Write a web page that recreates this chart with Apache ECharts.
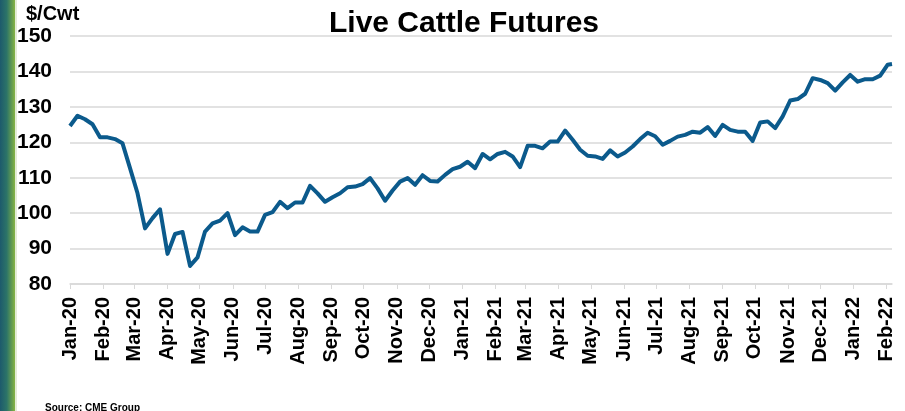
<!DOCTYPE html>
<html>
<head>
<meta charset="utf-8">
<title>Live Cattle Futures</title>
<script src="https://cdn.jsdelivr.net/npm/echarts@6/dist/echarts.min.js"></script>
<style>
    html, body { margin: 0; padding: 0; background: #fff; }
    #chart { width: 905px; height: 411px; }
</style>
</head>
<body>
<div id="chart"></div>
<script>
// weekly settle prices, $/Cwt
var firstWeek = '2020-01-01';
var lastQuote = '2022-02-06';
var prices = [
    124.6, 127.5, 126.5, 125.1, 121.4, 121.4, 120.9, 119.7, 112.7, 105.6,
    95.7, 98.6, 101.1, 88.5, 94.1, 94.7, 85.1, 87.5, 94.8, 97.1,
    97.9, 100.0, 93.8, 96.0, 94.8, 94.8, 99.5, 100.3, 103.2, 101.4,
    103.0, 103.0, 107.7, 105.6, 103.2, 104.5, 105.6, 107.3, 107.5, 108.2,
    109.9, 107.0, 103.5, 106.4, 108.9, 109.9, 108.0, 110.7, 109.1, 108.9,
    110.8, 112.4, 113.1, 114.5, 112.7, 116.7, 115.2, 116.7, 117.3, 116.0,
    113.0, 119.0, 119.0, 118.3, 120.2, 120.2, 123.3, 120.7, 117.9, 116.2,
    116.0, 115.3, 117.7, 116.0, 117.1, 118.8, 120.9, 122.7, 121.7, 119.3,
    120.4, 121.6, 122.1, 123.0, 122.7, 124.3, 121.8, 124.9, 123.5, 123.0,
    123.0, 120.4, 125.6, 125.9, 124.0, 127.3, 131.8, 132.2, 133.7, 138.1,
    137.6, 136.7, 134.6, 136.9, 139.0, 137.1, 137.8, 137.8, 138.8, 141.9,
    142.1
];
var monthNames = ['Jan','Feb','Mar','Apr','May','Jun','Jul','Aug','Sep','Oct','Nov','Dec'];
var yTicks = [80, 90, 100, 110, 120, 130, 140, 150];

function parseDay(s) {
    var p = s.split('-');
    return new Date(+p[0], +p[1] - 1, +p[2]);
}

// one point per week, the last one is the latest quote
var seriesData = [];
var d0 = parseDay(firstWeek);
for (var i = 0; i < prices.length; i++) {
    var d = (i == prices.length - 1) ? parseDay(lastQuote)
        : new Date(d0.getFullYear(), d0.getMonth(), d0.getDate() + 7 * i);
    seriesData.push([d.getTime(), prices[i]]);
}

// month starts Jan-20 .. Feb-22
var monthTicks = [];
for (var m = 0; m <= 25; m++) {
    monthTicks.push(new Date(2020, m, 1).getTime());
}

var chart = echarts.init(document.getElementById('chart'));
var option = {
    animation: false,
    backgroundColor: '#fff',
    textStyle: { fontFamily: 'Liberation Sans, Arial, sans-serif' },
    title: {
        text: 'Live Cattle Futures',
        left: 459,
        textAlign: 'center',
        top: 4,
        textStyle: { fontSize: 30, fontWeight: 'bold', color: '#000', fontFamily: 'Liberation Sans' }
    },
    graphic: [
        {
            type: 'rect', left: 0, top: 0, silent: true,
            shape: { width: 15, height: 411 },
            style: {
                fill: new echarts.graphic.LinearGradient(0, 0, 1, 0, [
                    { offset: 0, color: '#1d5a6c' },
                    { offset: 0.45, color: '#2c7468' },
                    { offset: 1, color: '#86b443' }
                ])
            }
        },
        {
            type: 'rect', left: 15, top: 0, silent: true,
            shape: { width: 2, height: 411 },
            style: { fill: '#e3ecd6' }
        },
        {
            type: 'text', left: 26, top: 4,
            style: { text: '$/Cwt', fontSize: 20, fontWeight: 'bold', fill: '#000', fontFamily: 'Liberation Sans' }
        },
        {
            type: 'text', left: 45, top: 403,
            style: { text: 'Source: CME Group', fontSize: 10, fontWeight: 'bold', fill: '#000', fontFamily: 'Liberation Sans' }
        }
    ],
    grid: { left: 70, right: 13, top: 36, bottom: 127, containLabel: false },
    xAxis: {
        type: 'value',
        min: monthTicks[0],
        max: parseDay(lastQuote).getTime(),
        axisLine: { show: true, lineStyle: { color: '#d9d9d9', width: 1.5 } },
        axisTick: { show: true, customValues: monthTicks, length: 5, lineStyle: { color: '#d9d9d9' } },
        splitLine: { show: false },
        axisLabel: {
            customValues: monthTicks,
            rotate: 90,
            margin: 13,
            fontSize: 20,
            fontWeight: 'bold',
            color: '#000',
            fontFamily: 'Liberation Sans',
            formatter: function (val) {
                var d = new Date(val);
                return monthNames[d.getMonth()] + '-' + String(d.getFullYear()).slice(2);
            }
        }
    },
    yAxis: {
        type: 'value',
        min: yTicks[0],
        max: yTicks[yTicks.length - 1],
        interval: 10,
        axisLine: { show: false },
        axisTick: { show: false },
        splitLine: { lineStyle: { color: '#d9d9d9', width: 1.5 } },
        axisLabel: { margin: 18, fontSize: 21, fontWeight: 'bold', color: '#000', fontFamily: 'Liberation Sans' }
    },
    series: [{
        type: 'line',
        data: seriesData,
        showSymbol: false,
        lineStyle: { color: '#0b5a8c', width: 4, join: 'round' }
    }]
};
chart.setOption(option);
</script>
</body>
</html>
